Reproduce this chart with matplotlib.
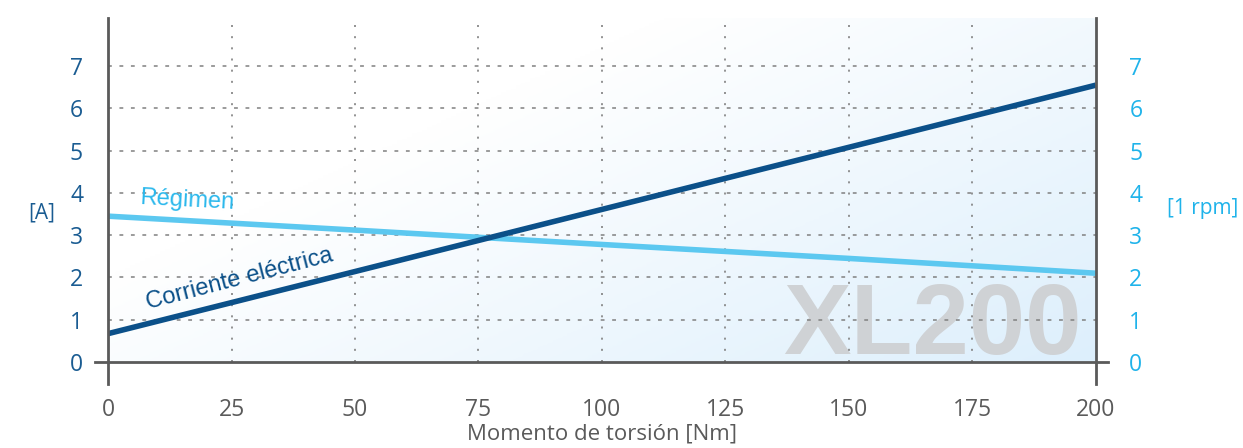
import numpy as np
import matplotlib.pyplot as plt
from matplotlib.lines import Line2D
from matplotlib.colors import LinearSegmentedColormap

# datos
torque = [0, 50, 100, 150, 200]
corriente = [0.67, 2.14, 3.61, 5.08, 6.55]
regimen = [3.45, 3.12, 2.78, 2.45, 2.10]
x_ticks = [0, 25, 50, 75, 100, 125, 150, 175, 200]
y_ticks = [0, 1, 2, 3, 4, 5, 6, 7]

dark_blue = '#0b5089'
light_blue = '#5cc8f0'
tick_blue = '#1a5c92'
tick_cyan = '#1fb3ea'
grey = '#5a5a5a'

plt.rcParams['font.family'] = ['Open Sans', 'DejaVu Sans']

fig = plt.figure(figsize=(12.43, 4.48), dpi=100)
ax = fig.add_axes([0.0869, 0.192, 0.7948, 0.768])
ax.set_xlim(0, 200)
ax.set_ylim(0, 8.14)

# fondo degradado (blanco arriba-izq, azul claro abajo-der)
n = 200
gx, gy = np.meshgrid(np.linspace(0, 1, n), np.linspace(0, 1, n))
grad = np.clip((0.8 * gx + 0.6 * gy - 0.45) / 0.95, 0, 1)
cmap = LinearSegmentedColormap.from_list('bg', ['#ffffff', '#ddeffc'])
ax.imshow(grad, cmap=cmap, extent=[0, 1, 0, 1], transform=ax.transAxes,
          aspect='auto', origin='upper', zorder=0)

# marca de agua
ax.text(0.985, 0.022, 'XL200', transform=ax.transAxes, ha='right', va='baseline',
        fontsize=73, fontweight='bold', color='#cfd2d5',
        family=['Liberation Sans', 'DejaVu Sans'], zorder=1)

# rejilla
for xv in x_ticks[1:-1]:
    ax.axvline(xv, color='#808080', lw=1.2, ls=(0, (1.2, 5.5)), zorder=2)
for yv in y_ticks[1:]:
    ax.axhline(yv, color='#808080', lw=1.1, ls=(0, (2.5, 5)), zorder=2)

ax.plot(torque, regimen, color=light_blue, lw=4, solid_capstyle='butt', zorder=4)
ax.plot(torque, corriente, color=dark_blue, lw=4, solid_capstyle='butt', zorder=5)

ax.text(16, 3.82, 'Régimen', color='#2bb8ec', fontsize=17, rotation=-3,
        ha='center', va='center', family=['Liberation Sans', 'DejaVu Sans'])
ax.text(26.7, 1.97, 'Corriente eléctrica', color=dark_blue, fontsize=17, rotation=14.5,
        ha='center', va='center', family=['Liberation Sans', 'DejaVu Sans'])

for s in ax.spines.values():
    s.set_visible(False)

# ejes propios (se prolongan fuera del area)
lk = dict(color=grey, lw=2, clip_on=False, zorder=6, transform=ax.transAxes)
ax.add_line(Line2D([0, 0], [-0.065, 1.0], **lk))
ax.add_line(Line2D([1, 1], [-0.065, 1.0], **lk))
ax.add_line(Line2D([-0.013, 1.012], [0, 0], **lk))

ax.set_xticks(x_ticks)
ax.set_yticks(y_ticks)
ax.tick_params(axis='x', length=0, pad=26, labelsize=16.5, labelcolor=grey)
ax.tick_params(axis='y', length=0, pad=18, labelsize=16.5, labelcolor=tick_blue)

ax2 = ax.twinx()
ax2.set_ylim(ax.get_ylim())
ax2.set_yticks(y_ticks)
ax2.tick_params(axis='y', length=0, pad=24, labelsize=16.5, labelcolor=tick_cyan)
for s in ax2.spines.values():
    s.set_visible(False)

ax.set_xlabel('Momento de torsión [Nm]', fontsize=16, color=grey, labelpad=1)
fig.text(42 / 1243, 1 - 213 / 448, '[A]', color=tick_blue, fontsize=15,
         ha='center', va='center')
fig.text(1203 / 1243, 1 - 208 / 448, '[1 rpm]', color=tick_cyan, fontsize=15,
         ha='center', va='center')

fig.savefig('out.png', dpi=100)
